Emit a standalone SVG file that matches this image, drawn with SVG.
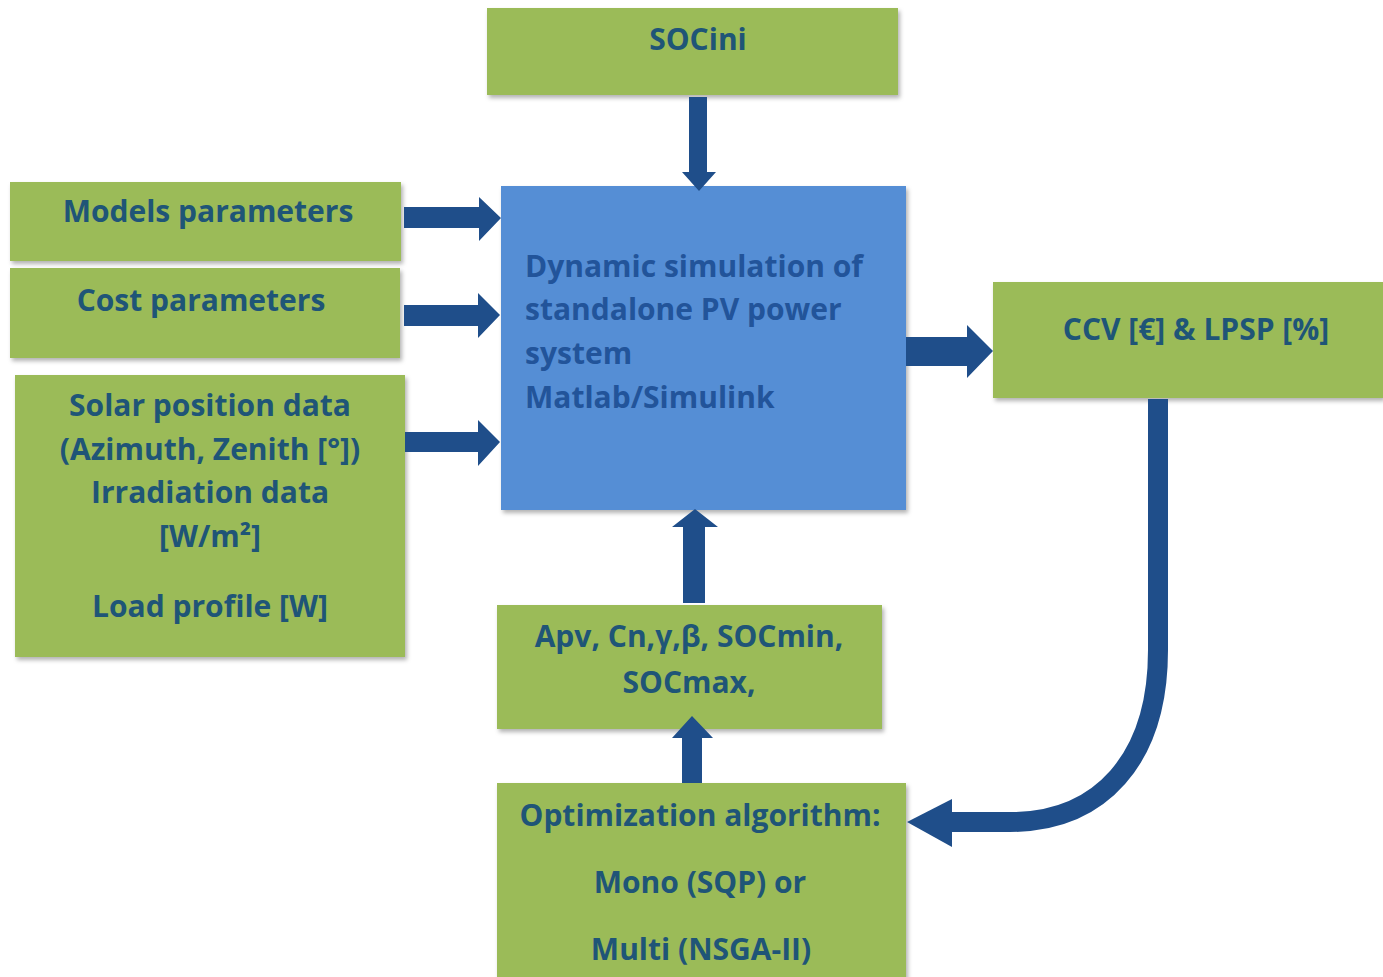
<svg xmlns="http://www.w3.org/2000/svg" width="1383" height="977" viewBox="0 0 1383 977">
<defs>
<filter id="sh" x="-5%" y="-5%" width="115%" height="120%">
<feDropShadow dx="2" dy="3" stdDeviation="2" flood-color="#000" flood-opacity="0.3"/>
</filter>
<style>
.g{fill:#9BBB59;filter:url(#sh)}
.b{fill:#558ED5;filter:url(#sh)}
.t{font-family:"Open Sans","Liberation Sans",sans-serif;font-weight:bold;font-size:30px;fill:#1F5577;text-anchor:middle}
.tb{font-family:"Open Sans","Liberation Sans",sans-serif;font-weight:bold;font-size:30px;fill:#22549A}
.a{fill:#1F4E8A}
.as{fill:none;stroke:#1F4E8A;stroke-width:20}
</style>
</defs>
<rect width="1383" height="977" fill="#fff"/>
<g id="socini">
<rect class="g" x="487" y="8" width="411" height="87"/>
<text class="t" x="698" y="50">SOCini</text>
</g>
<g id="models">
<rect class="g" x="10" y="182" width="391" height="79"/>
<text class="t" x="208" y="222">Models parameters</text>
</g>
<g id="cost">
<rect class="g" x="10" y="268" width="390" height="90"/>
<text class="t" x="201" y="311">Cost parameters</text>
</g>
<g id="solar">
<rect class="g" x="15" y="375" width="390" height="282"/>
<text class="t" x="210" y="416">Solar position data</text>
<text class="t" x="210" y="460">(Azimuth, Zenith [°])</text>
<text class="t" x="210" y="503">Irradiation data</text>
<text class="t" x="210" y="547">[W/m²]</text>
<text class="t" x="210" y="617">Load profile [W]</text>
</g>
<g id="sim">
<rect class="b" x="501" y="186" width="405" height="324"/>
<text class="tb" x="525" y="277">Dynamic simulation of</text>
<text class="tb" x="525" y="320">standalone PV power</text>
<text class="tb" x="525" y="364">system</text>
<text class="tb" x="525" y="408">Matlab/Simulink</text>
</g>
<g id="ccv">
<rect class="g" x="993" y="282" width="390" height="116"/>
<text class="t" x="1196" y="340">CCV [€] &amp; LPSP [%]</text>
</g>
<g id="params">
<rect class="g" x="497" y="605" width="385" height="124"/>
<text class="t" x="689" y="647">Apv, Cn,γ,β, SOCmin,</text>
<text class="t" x="689" y="693">SOCmax,</text>
</g>
<g id="opt">
<rect class="g" x="497" y="783" width="409" height="200"/>
<text class="t" x="700" y="826">Optimization algorithm:</text>
<text class="t" x="700" y="893">Mono (SQP) or</text>
<text class="t" x="701" y="960">Multi (NSGA-II)</text>
</g>
<g id="connectors">
<polygon class="a" points="689,97 707,97 707,172 716,172 699,191 682,172 689,172"/>
<polygon class="a" points="404,207 479,207 479,197 501,218 479,241 479,228 404,228"/>
<polygon class="a" points="404,305 478,305 478,293 500,315 478,338 478,326 404,326"/>
<polygon class="a" points="405,432 478,432 478,420 500,442 478,466 478,452 405,452"/>
<polygon class="a" points="906,337 967,337 967,325 993,351 967,378 967,366 906,366"/>
<polygon class="a" points="683,603 683,527 672,527 695,509 718,527 705,527 705,603"/>
<polygon class="a" points="682,783 682,738 672,738 692,716 713,738 702,738 702,783"/>
<path class="as" d="M1158,399 L1158,650 C1158,760 1100,822 1010,822 L948,822"/>
<polygon class="a" points="952,799 907,822 952,847"/>
</g>
</svg>
